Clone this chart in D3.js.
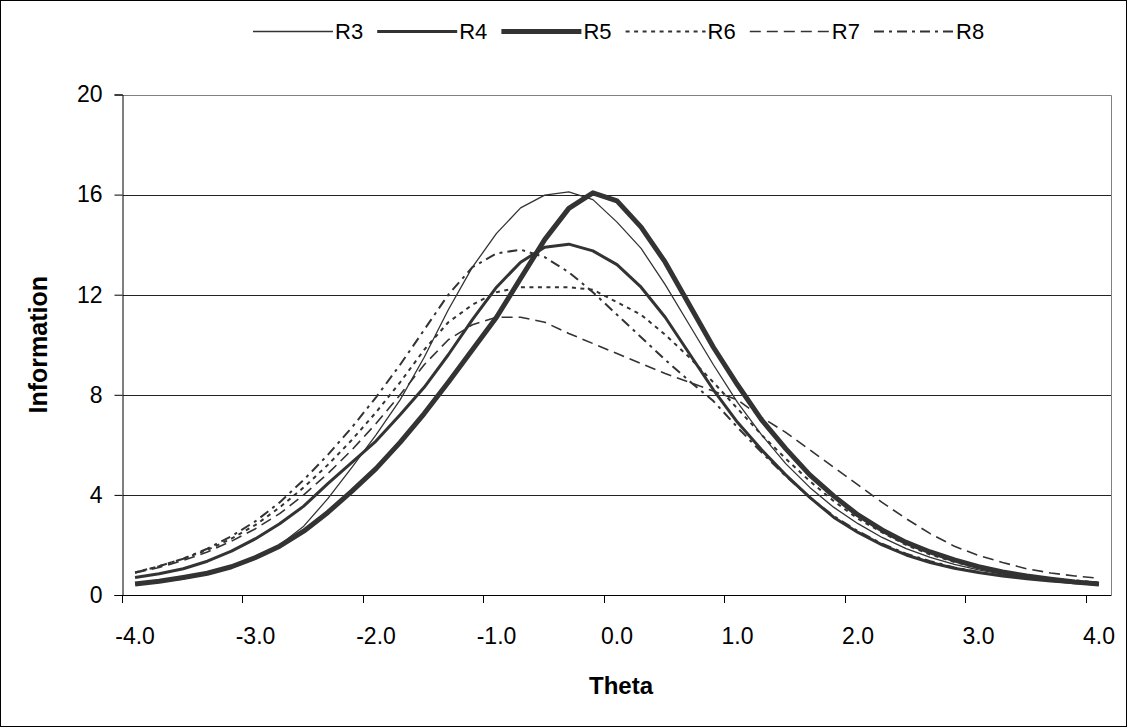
<!DOCTYPE html>
<html>
<head>
<meta charset="utf-8">
<script src="https://cdn.jsdelivr.net/npm/d3@7"></script>
<style>
body { margin: 0; background: #fff; }
svg { display: block; font-family: "Liberation Sans", Arial, sans-serif; }
</style>
</head>
<body>
<svg id="chart" width="1128" height="728"></svg>
<script>
// theta categories (x axis)
var theta = [-4.0, -3.8, -3.6, -3.4, -3.2, -3.0, -2.8, -2.6, -2.4, -2.2,
             -2.0, -1.8, -1.6, -1.4, -1.2, -1.0, -0.8, -0.6, -0.4, -0.2,
              0.0,  0.2,  0.4,  0.6,  0.8,  1.0,  1.2,  1.4,  1.6,  1.8,
              2.0,  2.2,  2.4,  2.6,  2.8,  3.0,  3.2,  3.4,  3.6,  3.8, 4.0]
var xLabels = ['-4.0', '-3.0', '-2.0', '-1.0', '0.0', '1.0', '2.0', '3.0', '4.0']
var yTicks = [0, 4, 8, 12, 16, 20]
var seriesNames = ['R3', 'R4', 'R5', 'R6', 'R7', 'R8']

var R3 = [0.43, 0.52, 0.64, 0.82, 1.08, 1.45, 2.00, 2.75, 3.85, 5.10,
          6.40, 7.80, 9.50, 11.40, 13.10, 14.45, 15.47, 15.98, 16.11, 15.80,
          14.90, 13.85, 12.40, 10.80, 9.20, 7.70, 6.40, 5.25, 4.30, 3.50,
          2.85, 2.30, 1.85, 1.50, 1.22, 1.00, 0.83, 0.69, 0.58, 0.50, 0.43]
var R4 = [0.70, 0.85, 1.05, 1.35, 1.75, 2.25, 2.85, 3.55, 4.45, 5.30,
          6.15, 7.20, 8.30, 9.60, 11.00, 12.30, 13.30, 13.90, 14.02, 13.75,
          13.20, 12.30, 11.10, 9.65, 8.20, 6.90, 5.80, 4.80, 3.90, 3.10,
          2.50, 2.00, 1.60, 1.30, 1.07, 0.90, 0.76, 0.65, 0.56, 0.49, 0.43]
var R5 = [0.44, 0.55, 0.70, 0.87, 1.13, 1.50, 1.95, 2.55, 3.30, 4.15,
          5.05, 6.10, 7.25, 8.50, 9.80, 11.10, 12.65, 14.20, 15.45, 16.07,
          15.75, 14.70, 13.30, 11.60, 9.90, 8.40, 7.00, 5.85, 4.80, 3.95,
          3.20, 2.60, 2.10, 1.72, 1.40, 1.13, 0.92, 0.76, 0.63, 0.52, 0.44]
var R6 = [0.90, 1.15, 1.45, 1.80, 2.25, 2.80, 3.50, 4.30, 5.20, 6.20,
          7.30, 8.50, 9.80, 10.90, 11.60, 12.10, 12.30, 12.30, 12.30, 12.20,
          11.70, 11.20, 10.40, 9.50, 8.50, 7.45, 6.40, 5.45, 4.55, 3.75,
          3.05, 2.50, 2.00, 1.62, 1.32, 1.08, 0.90, 0.76, 0.66, 0.58, 0.50]
var R7 = [0.88, 1.10, 1.38, 1.72, 2.15, 2.65, 3.25, 4.00, 4.85, 5.80,
          6.85, 8.00, 9.20, 10.20, 10.80, 11.10, 11.10, 10.90, 10.45, 10.05,
          9.65, 9.25, 8.85, 8.50, 8.15, 7.80, 7.10, 6.50, 5.80, 5.10,
          4.40, 3.70, 3.05, 2.45, 1.95, 1.58, 1.30, 1.05, 0.88, 0.76, 0.67]
var R8 = [0.90, 1.15, 1.45, 1.85, 2.35, 2.95, 3.70, 4.60, 5.60, 6.70,
          7.90, 9.20, 10.60, 12.00, 13.10, 13.65, 13.80, 13.50, 12.90, 12.10,
          11.20, 10.30, 9.40, 8.55, 7.75, 6.70, 5.70, 4.75, 3.90, 3.15,
          2.55, 2.05, 1.65, 1.35, 1.10, 0.92, 0.78, 0.67, 0.58, 0.52, 0.46]

var svg = d3.select('#chart')
var margin = {left: 123, right: 1111, top: 94.5, bottom: 595}
var lineColor = '#333'
var tickFont = 23

var seriesData = [R3, R4, R5, R6, R7, R8]
var styles = [
    {w: 1.3, dash: null},
    {w: 3, dash: null},
    {w: 5, dash: null},
    {w: 2, dash: '4,4.5'},
    {w: 1.6, dash: '11,6'},
    {w: 2, dash: '10,5,3,5'}
]

// outer border
svg.append('rect')
    .attr('x', 0.5).attr('y', 0.5)
    .attr('width', 1126).attr('height', 726)
    .attr('fill', 'none').attr('stroke', '#000')

var xscale = d3.scaleBand()
    .domain(theta.map(function (d, i) { return i }))
    .range([margin.left, margin.right])
var bw = xscale.bandwidth()
var yscale = d3.scaleLinear()
    .domain([0, 20])
    .range([margin.bottom, margin.top])

// gridlines
svg.append('g').selectAll('line')
    .data(yTicks.filter(function (d) { return d > 0 && d < 20 }))
    .enter().append('line')
    .attr('x1', margin.left).attr('x2', margin.right)
    .attr('y1', d => Math.round(yscale(d)) + 0.5)
    .attr('y2', d => Math.round(yscale(d)) + 0.5)
    .attr('stroke', '#222').attr('stroke-width', 1)

// plot area border (top/right)
svg.append('path')
    .attr('d', 'M' + margin.left + ',' + (Math.round(margin.top) + 0.5) +
        'H' + (margin.right + 0.5) + 'V' + margin.bottom)
    .attr('fill', 'none').attr('stroke', '#808080')

// y axis
svg.append('g')
    .attr('transform', 'translate(' + (margin.left - 0.5) + ',0)')
    .call(d3.axisLeft(yscale).tickValues(yTicks).tickSize(8).tickPadding(12).tickFormat(d3.format('d')))
    .call(g => g.select('.domain').attr('stroke', '#000'))
    .call(g => g.selectAll('.tick line').attr('stroke', '#000'))
    .call(g => g.selectAll('text').attr('font-size', tickFont).attr('fill', '#000')
        .attr('font-family', '"Liberation Sans", Arial, sans-serif'))

// x axis line
svg.append('line')
    .attr('x1', margin.left - 8).attr('x2', margin.right + 0.5)
    .attr('y1', margin.bottom + 0.5).attr('y2', margin.bottom + 0.5)
    .attr('stroke', '#000')

// x ticks on category boundaries, every 5 categories
var tickIdx = theta.map((d, i) => i).filter(i => i % 5 === 0)
svg.append('g').selectAll('line')
    .data(tickIdx).enter().append('line')
    .attr('x1', i => Math.round(xscale(i)) - 0.5)
    .attr('x2', i => Math.round(xscale(i)) - 0.5)
    .attr('y1', margin.bottom).attr('y2', margin.bottom + 8)
    .attr('stroke', '#000')

svg.append('g').selectAll('text')
    .data(xLabels).enter().append('text')
    .text(d => d)
    .attr('x', (d, i) => xscale(i * 5) + bw / 2)
    .attr('y', 636)
    .attr('dy', '0.35em')
    .attr('text-anchor', 'middle')
    .attr('font-size', tickFont)

// series lines
var line = d3.line()
    .x((d, i) => xscale(i) + bw / 2)
    .y(d => yscale(d))

svg.append('g').selectAll('path')
    .data(seriesData).enter().append('path')
    .attr('d', d => line(d))
    .attr('fill', 'none')
    .attr('stroke', lineColor)
    .attr('stroke-width', (d, i) => styles[i].w)
    .attr('stroke-dasharray', (d, i) => styles[i].dash)
    .attr('stroke-linejoin', 'round')

// legend
var lg = svg.append('g').selectAll('g')
    .data(seriesNames).enter().append('g')
    .attr('transform', (d, i) => 'translate(' + (253 + i * 124.2) + ',31)')
lg.append('line')
    .attr('x1', 0).attr('x2', 80)
    .attr('y1', 0.5).attr('y2', 0.5)
    .attr('stroke', lineColor)
    .attr('stroke-width', (d, i) => styles[i].w)
    .attr('stroke-dasharray', (d, i) => styles[i].dash)
lg.append('text')
    .text(d => d)
    .attr('x', 82)
    .attr('dy', '0.35em')
    .attr('font-size', 22)

// axis titles
svg.append('text').text('Theta')
    .attr('x', (margin.left + margin.right) / 2 + 4).attr('y', 686)
    .attr('dy', '0.35em')
    .attr('text-anchor', 'middle')
    .attr('font-weight', 'bold').attr('font-size', 24)
svg.append('text').text('Information')
    .attr('transform', 'translate(38,' + (margin.top + margin.bottom) / 2 + ') rotate(-90)')
    .attr('dy', '0.35em')
    .attr('text-anchor', 'middle')
    .attr('font-weight', 'bold').attr('font-size', 25)
</script>
</body>
</html>
